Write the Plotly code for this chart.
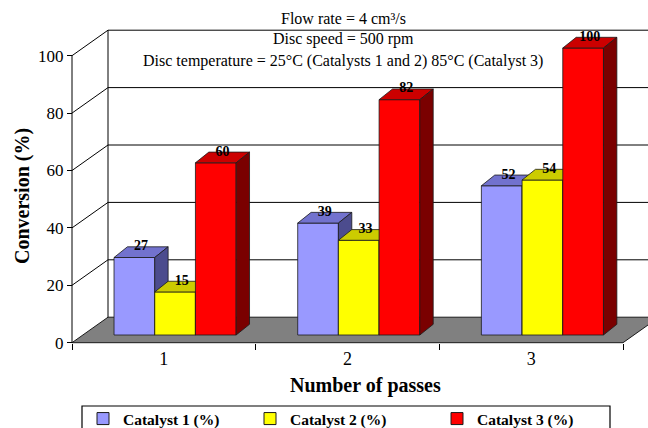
import plotly.graph_objects as go

# ---------------- data ----------------
passes = ["1", "2", "3"]
series_names = ["Catalyst 1 (%)", "Catalyst 2 (%)", "Catalyst 3 (%)"]
catalyst1 = [27, 39, 52]
catalyst2 = [15, 33, 54]
catalyst3 = [60, 82, 100]
y_tick_values = [0, 20, 40, 60, 80, 100]
info_lines = [
    "Flow rate = 4 cm³/s",
    "Disc speed = 500 rpm",
    "Disc temperature = 25°C (Catalysts 1 and 2) 85°C (Catalyst 3)",
]
x_title = "Number of passes"
y_title = "Conversion (%)"

series_values = [catalyst1, catalyst2, catalyst3]

# ---------------- style ----------------
FRONT = ["#9999FF", "#FFFF00", "#FF0000"]
TOP = ["#7272CE", "#CCCC00", "#CC0000"]
SIDE = ["#4C4C8E", "#808000", "#7A0000"]
EDGE = "#1a1a1a"
FONT = "Liberation Serif"
LEGEND_WIDTHS = [122, 142, 110]

W, H = 648, 428
ML, MR, MT, MB = 70, 0, 0, 83
PW, PH = W - ML - MR, H - MT - MB
PX_X = 183.67   # pixels per category
PX_Y = 2.87     # pixels per percent
PAD_L, PAD_B = 2.0, 2.3

x_lo = 0.5 - PAD_L / PX_X
x_hi = x_lo + PW / PX_X
y_lo = -PAD_B / PX_Y
y_hi = y_lo + PH / PX_Y

# 3-D projection offsets (axis units)
WDX, WDY = 36 / PX_X, 25.5 / PX_Y        # wall depth
BW = 40.7 / PX_X                          # bar width
BX0, BY0 = 11.25 / PX_X, 7.7 / PX_Y       # bar front offset
BDX, BDY = 13.4 / PX_X, 10.7 / PX_Y       # bar depth

xc = list(range(1, len(passes) + 1))
x_first, x_last = xc[0] - 0.5, xc[-1] + 0.5
y_max = y_tick_values[-1]


def px_x(p):
    return (p - ML) / PW


def px_y(p):
    return 1 - (p - MT) / PH


def poly_trace(polys, fill, line_color=EDGE, width=0.8):
    xs, ys = [], []
    for p in polys:
        for a, b in p:
            xs.append(a)
            ys.append(b)
        xs.append(p[0][0])
        ys.append(p[0][1])
        xs.append(None)
        ys.append(None)
    return go.Scatter(x=xs, y=ys, mode="lines", fill="toself", fillcolor=fill,
                      line=dict(color=line_color, width=width),
                      hoverinfo="skip", showlegend=False)


fig = go.Figure()

# floor
fig.add_trace(poly_trace([[(x_first, 0), (x_last, 0), (x_last + WDX, WDY), (x_first + WDX, WDY)]],
                         "#808080", EDGE, 1))

# walls / gridlines
lx, ly = [], []
lx += [x_first, x_first, None]
ly += [0, y_max, None]
lx += [x_first + WDX, x_first + WDX, None]
ly += [WDY, y_max + WDY, None]
for v in y_tick_values[1:]:
    lx += [x_first, x_first + WDX, x_last + WDX, None]
    ly += [v, v + WDY, v + WDY, None]
fig.add_trace(go.Scatter(x=lx, y=ly, mode="lines", line=dict(color="black", width=1),
                         hoverinfo="skip", showlegend=False))

# bars (front, top, side), painter's order
label_x, label_y, label_t = [], [], []
for i, vals in enumerate(series_values):
    fronts, tops, sides = [], [], []
    for j, v in enumerate(vals):
        left = xc[j] - 1.5 * BW + BX0 + i * BW
        right = left + BW
        base = BY0
        top = BY0 + v
        fronts.append([(left, base), (right, base), (right, top), (left, top)])
        tops.append([(left, top), (right, top), (right + BDX, top + BDY), (left + BDX, top + BDY)])
        sides.append([(right, base), (right + BDX, base + BDY), (right + BDX, top + BDY), (right, top)])
        label_x.append((left + right) / 2 + BDX / 2)
        label_y.append(top + BDY)
        label_t.append(str(v))
    fig.add_trace(poly_trace(fronts, FRONT[i]))
    fig.add_trace(poly_trace(tops, TOP[i]))
    fig.add_trace(poly_trace(sides, SIDE[i]))

# data labels
fig.add_trace(go.Scatter(x=label_x, y=label_y, mode="text", text=label_t,
                         textposition="middle center",
                         textfont=dict(family=FONT, size=14, color="black", weight="bold"),
                         hoverinfo="skip", showlegend=False))

# legend entries
for i, name in enumerate(series_names):
    fig.add_trace(go.Bar(x=[None], y=[None], name=name, legendwidth=LEGEND_WIDTHS[i],
                         marker=dict(color=FRONT[i], line=dict(color=EDGE, width=1))))

annotations = []
for k, (line, yc) in enumerate(zip(info_lines, [19, 39, 61])):
    annotations.append(dict(text=line, xref="paper", yref="paper", x=px_x(343), y=px_y(yc),
                            xanchor="center", yanchor="middle", showarrow=False,
                            font=dict(family=FONT, size=16, color="black")))
annotations.append(dict(text=x_title, xref="paper", yref="paper", x=px_x(365), y=px_y(385),
                        xanchor="center", yanchor="middle", showarrow=False,
                        font=dict(family=FONT, size=20, color="black", weight="bold")))
annotations.append(dict(text=y_title, xref="paper", yref="paper", x=px_x(22), y=px_y(196),
                        xanchor="center", yanchor="middle", showarrow=False, textangle=-90,
                        font=dict(family=FONT, size=20, color="black", weight="bold")))

# legend frame (runs off the bottom of the picture, as in the original)
shapes = [dict(type="rect", xref="paper", yref="paper",
               x0=px_x(82), x1=px_x(610), y0=px_y(450), y1=px_y(406),
               line=dict(color="black", width=1.2), fillcolor="rgba(0,0,0,0)", layer="below")]

fig.update_layout(
    width=W, height=H,
    margin=dict(l=ML, r=MR, t=MT, b=MB, pad=0, autoexpand=False),
    paper_bgcolor="white", plot_bgcolor="white",
    showlegend=True,
    annotations=annotations,
    shapes=shapes,
    legend=dict(orientation="h", x=px_x(83), xanchor="left", y=px_y(402), yanchor="top",
                borderwidth=0, bgcolor="rgba(0,0,0,0)", itemwidth=30,
                font=dict(family=FONT, size=15.5, color="black", weight="bold"),
                traceorder="normal"),
    xaxis=dict(type="linear", range=[x_lo, x_hi], showgrid=False, zeroline=False, showline=False,
               tickmode="array", tickvals=xc, ticktext=passes, ticks="",
               tickfont=dict(family=FONT, size=18, color="black"), ticklabelstandoff=3,
               anchor="free", position=PAD_B / PH,
               minor=dict(tickmode="array", tickvals=[x_first + k for k in range(len(passes) + 1)],
                          ticks="outside", ticklen=6, tickwidth=1, tickcolor="black", showgrid=False),
               fixedrange=True),
    yaxis=dict(type="linear", range=[y_lo, y_hi], showgrid=False, zeroline=False, showline=False,
               tickmode="array", tickvals=y_tick_values, ticks="outside", ticklen=5, tickwidth=1,
               tickcolor="black", tickfont=dict(family=FONT, size=17, color="black"),
               anchor="free", position=PAD_L / PW, fixedrange=True),
)

fig.write_html("out.html")
